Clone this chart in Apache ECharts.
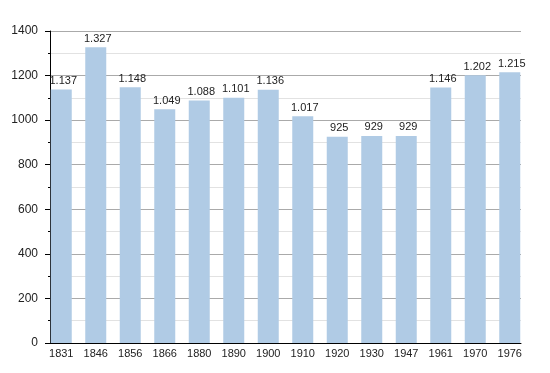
<!DOCTYPE html>
<html><head><meta charset="utf-8">
<script src="https://cdn.jsdelivr.net/npm/echarts@6/dist/echarts.min.js"></script>
<style>html,body{margin:0;padding:0;background:#fff}#c{width:550px;height:373px}</style>
</head><body><div id="c"></div>
<script>
var years = ['1831','1846','1856','1866','1880','1890','1900','1910','1920','1930','1947','1961','1970','1976'];
var population = [1137,1327,1148,1049,1088,1101,1136,1017,925,929,929,1146,1202,1215];
var yTicks = [0,200,400,600,800,1000,1200,1400];

function fmt(v){
  var s = String(v);
  return s.length > 3 ? s.slice(0, s.length-3) + '.' + s.slice(-3) : s;
}
var FONT = 'Liberation Sans, Arial, sans-serif';
var chart = echarts.init(document.getElementById('c'), null, {renderer:'canvas'});
chart.setOption({
  animation:false,
  grid:[
    {left:50,right:29,top:31,bottom:30,containLabel:false},
    {left:44,right:23,top:31,bottom:30,containLabel:false}
  ],
  xAxis:[
    {type:'category',gridIndex:0,data:years,
      axisLine:{lineStyle:{color:'#000',width:1}},
      axisTick:{show:false},axisLabel:{show:false}},
    {type:'category',gridIndex:1,data:years,
      axisLine:{show:false},axisTick:{show:false},
      axisLabel:{color:'#222',fontSize:11,fontFamily:FONT,margin:5}}
  ],
  yAxis:[
    {type:'value',gridIndex:0,min:yTicks[0],max:yTicks[yTicks.length-1],interval:200,
      axisLine:{show:true,lineStyle:{color:'#000',width:1}},
      axisTick:{show:true,length:5,lineStyle:{color:'#000'}},
      minorTick:{show:true,splitNumber:2,length:2,lineStyle:{color:'#000'}},
      splitLine:{lineStyle:{color:'#aaa',width:1}},
      minorSplitLine:{show:true,lineStyle:{color:'#e2e2e2',width:1}},
      axisLabel:{color:'#222',fontSize:12,fontFamily:FONT,margin:12,formatter:function(v){return String(v);}}
    },
    {type:'value',gridIndex:1,min:yTicks[0],max:yTicks[yTicks.length-1],interval:200,
      show:false,splitLine:{show:false}}
  ],
  series:[{type:'bar',xAxisIndex:1,yAxisIndex:1,data:population,barWidth:21,z:5,
    itemStyle:{color:'#b0cbe5'},
    label:{show:true,position:'top',distance:3,offset:[2,0],color:'#222',fontSize:11,fontFamily:FONT,
      formatter:function(p){return fmt(p.value);}}
  }]
});
</script></body></html>
